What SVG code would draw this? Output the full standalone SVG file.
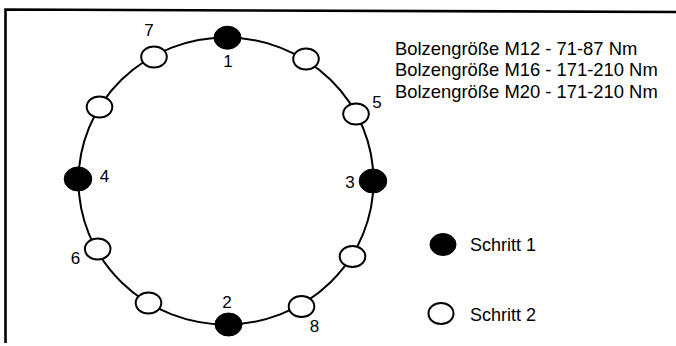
<svg xmlns="http://www.w3.org/2000/svg" width="676" height="346" viewBox="0 0 676 346">
  <style>
    .frame { fill: none; stroke: #000; stroke-width: 2.6; }
    .ring { fill: none; stroke: #000; stroke-width: 2; }
    .bolt1 { fill: #000; stroke: #000; stroke-width: 1; }
    .bolt2 { fill: #fff; stroke: #000; stroke-width: 2; }
    .num { font-family: "Liberation Sans", Arial, sans-serif; font-size: 17px; fill: #000; text-anchor: middle; }
    .txt { font-family: "Liberation Sans", Arial, sans-serif; font-size: 18.4px; fill: #000; }
    .leg { font-family: "Liberation Sans", Arial, sans-serif; font-size: 18px; fill: #000; }
  </style>
  <rect width="676" height="346" fill="#fff"/>

  <!-- outer frame: top and left edges only -->
  <path class="frame" d="M5.5 343 L5.5 9.5 L676 12"/>

  <!-- bolt circle -->
  <g id="connectors">
    <ellipse class="ring" cx="226" cy="181" rx="147.5" ry="143.5"/>
  </g>

  <!-- step 1 bolts -->
  <g id="bolt-1">
    <ellipse class="bolt1" cx="227.5" cy="37.7" rx="13.5" ry="11.5"/>
    <text class="num" x="228" y="66.5">1</text>
  </g>
  <g id="bolt-2">
    <ellipse class="bolt1" cx="228.5" cy="324.5" rx="13.5" ry="11.5"/>
    <text class="num" x="227" y="307.5">2</text>
  </g>
  <g id="bolt-3">
    <ellipse class="bolt1" cx="373" cy="181" rx="13.8" ry="12"/>
    <text class="num" x="350" y="187.5">3</text>
  </g>
  <g id="bolt-4">
    <ellipse class="bolt1" cx="78" cy="179" rx="13.8" ry="12"/>
    <text class="num" x="104.5" y="182">4</text>
  </g>

  <!-- step 2 bolts -->
  <g id="bolt-5">
    <ellipse class="bolt2" cx="356" cy="114" rx="12.8" ry="10.5"/>
    <text class="num" x="377" y="108">5</text>
  </g>
  <g id="bolt-6">
    <ellipse class="bolt2" cx="97.7" cy="249" rx="12.8" ry="10.5"/>
    <text class="num" x="75.5" y="264">6</text>
  </g>
  <g id="bolt-7">
    <ellipse class="bolt2" cx="154" cy="57" rx="12.8" ry="10.5"/>
    <text class="num" x="149" y="36">7</text>
  </g>
  <g id="bolt-8">
    <ellipse class="bolt2" cx="301.5" cy="306.5" rx="12.8" ry="10.5"/>
    <text class="num" x="314.5" y="331.5">8</text>
  </g>
  <g id="bolt-upper-right">
    <ellipse class="bolt2" cx="306" cy="59" rx="12.8" ry="10.5"/>
  </g>
  <g id="bolt-upper-left">
    <ellipse class="bolt2" cx="99.5" cy="107" rx="12.8" ry="10.5"/>
  </g>
  <g id="bolt-lower-right">
    <ellipse class="bolt2" cx="352.5" cy="256.5" rx="12.8" ry="10.5"/>
  </g>
  <g id="bolt-lower-left">
    <ellipse class="bolt2" cx="148.5" cy="303" rx="12.8" ry="10.5"/>
  </g>

  <!-- torque values -->
  <g id="torque">
    <text class="txt" x="395" y="54.5">Bolzengröße M12 - 71-87 Nm</text>
    <text class="txt" x="395" y="76">Bolzengröße M16 - 171-210 Nm</text>
    <text class="txt" x="395" y="97.7">Bolzengröße M20 - 171-210 Nm</text>
  </g>

  <!-- legend -->
  <g id="legend-step1">
    <ellipse class="bolt1" cx="443" cy="244.5" rx="13" ry="11"/>
    <text class="leg" x="470" y="250.5">Schritt 1</text>
  </g>
  <g id="legend-step2">
    <ellipse class="bolt2" cx="441" cy="313.5" rx="12.5" ry="10.5"/>
    <text class="leg" x="470" y="321">Schritt 2</text>
  </g>
</svg>
